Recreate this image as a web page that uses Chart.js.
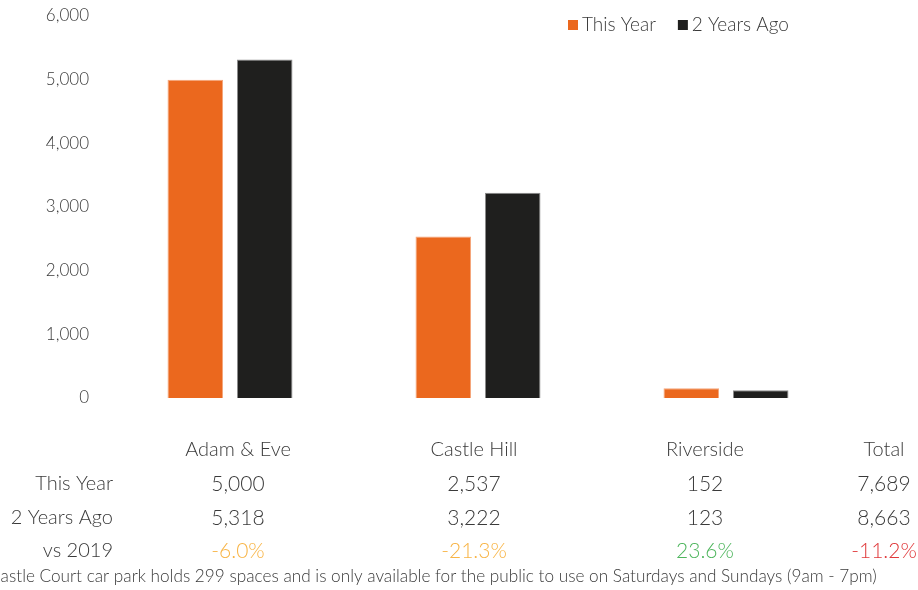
<!DOCTYPE html>
<html>
<head>
<meta charset="utf-8">
<script src="https://cdn.jsdelivr.net/npm/chart.js@4/dist/chart.umd.min.js"></script>
<style>
  html, body { margin: 0; padding: 0; background: #fff; }
  #wrap { width: 918px; height: 590px; }
</style>
</head>
<body>
<div id="wrap"><canvas id="myChart" width="918" height="590"></canvas></div>
<script>
// data
const sites = ['Adam & Eve', 'Castle Hill', 'Riverside'];
const thisYear = [5000, 2537, 152];
const twoYearsAgo = [5318, 3222, 123];
const yTicks = [0, 1000, 2000, 3000, 4000, 5000, 6000];
const tableColumns = ['Adam & Eve', 'Castle Hill', 'Riverside', 'Total'];
const tableRows = ['This Year', '2 Years Ago', 'vs 2019'];
const changeColours = ['#F8B445', '#F8B445', '#4DB55C', '#E0393B'];
const footnote = 'Castle Court car park holds 299 spaces and is only available for the public to use on Saturdays and Sundays (9am - 7pm)';

const FONT = 'Lato, "Open Sans", sans-serif';
const TEXT = '#3a3a3a';

function fmt(n) {
    return n.toLocaleString('en-GB');
}

// totals + change row
const totalThis = thisYear.reduce((a, b) => a + b, 0);
const totalAgo = twoYearsAgo.reduce((a, b) => a + b, 0);
const row1 = thisYear.concat([totalThis]);
const row2 = twoYearsAgo.concat([totalAgo]);
const row3 = row1.map((v, i) => ((v / row2[i] - 1) * 100).toFixed(1) + '%');

// custom legend + table under the chart
const tablePlugin = {
    id: 'tablePlugin',
    afterDraw(chart) {
        const ctx = chart.ctx;
        ctx.save();
        ctx.textBaseline = 'middle';

        // legend, top right
        const ds = chart.data.datasets;
        let lx = 568;
        ctx.font = '300 19px ' + FONT;
        ds.forEach(d => {
            ctx.fillStyle = d.backgroundColor;
            ctx.fillRect(lx, 20, 10, 10);
            ctx.fillStyle = TEXT;
            ctx.textAlign = 'left';
            ctx.fillText(d.label, lx + 14, 25);
            lx += 14 + ctx.measureText(d.label).width + 22;
        });

        const colX = [238, 474, 705, 884];
        const rowY = [484, 518, 551];

        // column headers
        ctx.font = '300 20px ' + FONT;
        ctx.fillStyle = TEXT;
        ctx.textAlign = 'center';
        tableColumns.forEach((c, i) => ctx.fillText(c, colX[i], 450));

        // row labels
        ctx.textAlign = 'right';
        tableRows.forEach((r, i) => ctx.fillText(r, 113, rowY[i]));

        // values
        ctx.font = '300 21px ' + FONT;
        ctx.textAlign = 'center';
        row1.forEach((v, i) => ctx.fillText(fmt(v), colX[i], rowY[0]));
        row2.forEach((v, i) => ctx.fillText(fmt(v), colX[i], rowY[1]));
        row3.forEach((v, i) => {
            ctx.fillStyle = changeColours[i];
            ctx.fillText(v, colX[i], rowY[2]);
        });

        // footnote (cut off on the left like the original)
        ctx.font = '300 17.2px ' + FONT;
        ctx.fillStyle = TEXT;
        ctx.textAlign = 'left';
        ctx.fillText(footnote, -11, 576);
        ctx.restore();
    }
};

const ctx = document.getElementById('myChart').getContext('2d');
const myChart = new Chart(ctx, {
    type: 'bar',
    data: {
        labels: sites,
        datasets: [{
            label: 'This Year',
            data: thisYear,
            backgroundColor: '#EB681E',
            borderColor: '#F5A57A',
            borderWidth: 1
        }, {
            label: '2 Years Ago',
            data: twoYearsAgo,
            backgroundColor: '#1F1F1E',
            borderColor: '#8C8C8C',
            borderWidth: 1
        }]
    },
    options: {
        responsive: false,
        animation: false,
        layout: { padding: { top: 16, right: 68, bottom: 192, left: 0 } },
        datasets: {
            bar: { categoryPercentage: 0.56, barPercentage: 0.8 }
        },
        plugins: {
            legend: { display: false },
            tooltip: { enabled: false }
        },
        scales: {
            x: { display: false },
            y: {
                min: 0,
                max: 6000,
                afterBuildTicks(scale) {
                    scale.ticks = yTicks.map(v => ({ value: v }));
                },
                afterFit(scale) {
                    scale.width = 106;
                    scale.paddingTop = 0;
                    scale.paddingBottom = 0;
                },
                grid: { display: false, drawTicks: false },
                border: { display: false },
                ticks: {
                    padding: 17,
                    color: TEXT,
                    font: { family: FONT, size: 17, weight: '300' },
                    callback: v => fmt(v)
                }
            }
        }
    },
    plugins: [tablePlugin]
});
</script>
</body>
</html>
